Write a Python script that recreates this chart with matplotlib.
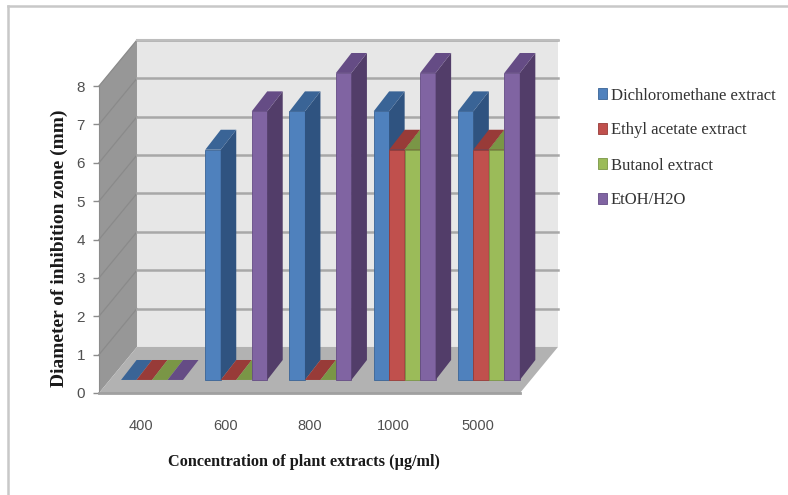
import matplotlib
matplotlib.use('Agg')
import matplotlib.pyplot as plt
from matplotlib.patches import Polygon, Patch

categories = ['400', '600', '800', '1000', '5000']
dichloromethane = [0, 6, 7, 7, 7]
ethyl_acetate = [0, 0, 0, 6, 6]
butanol = [0, 0, 0, 6, 6]
etoh_h2o = [0, 7, 8, 8, 8]
series_names = ['Dichloromethane extract', 'Ethyl acetate extract', 'Butanol extract', 'EtOH/H2O']

front_colors = ['#4F81BD', '#C0504D', '#9BBB59', '#8064A2']
top_colors = ['#3A6496', '#983B38', '#7A9646', '#654C85']
side_colors = ['#2F5380', '#7F3533', '#64783A', '#523D69']

W, H = 788, 495
# fake 3d depth, in data units
WALL_DX, WALL_DY = 0.451, 1.2
BAR_X0, BAR_Y0 = 0.13, 0.34
BAR_W = 0.184
BAR_DX, BAR_DY = 0.184, 0.52

fig = plt.figure(figsize=(W / 100, H / 100), dpi=100, facecolor='white')
ax = fig.add_axes([99 / W, 1 - 393 / H, 421 / W, 307 / H])
ax.set_xlim(0, 5)
ax.set_ylim(0, 8)
ax.patch.set_visible(False)


def poly(pts, color, z, edge=None, lw=0):
    ax.add_patch(Polygon(pts, closed=True, facecolor=color, edgecolor=edge or color,
                         linewidth=lw, clip_on=False, zorder=z))


n = len(categories)
# walls and floor
poly([(WALL_DX, WALL_DY), (n + WALL_DX, WALL_DY), (n + WALL_DX, 8 + WALL_DY), (WALL_DX, 8 + WALL_DY)], '#E7E7E7', 1)
poly([(0, 0), (WALL_DX, WALL_DY), (WALL_DX, 8 + WALL_DY), (0, 8)], '#979797', 1)
poly([(0, 0), (n, 0), (n + WALL_DX, WALL_DY), (WALL_DX, WALL_DY)], '#B2B2B2', 2)

# gridlines: faint on the left wall, stronger along the back
for k in range(1, 9):
    ax.plot([0, WALL_DX], [k, k + WALL_DY], color='#8A8A8A', lw=0.9, clip_on=False, zorder=1.5)
    ax.plot([WALL_DX, n + WALL_DX], [k + WALL_DY, k + WALL_DY], color='#A8A8A8', lw=1.8,
            clip_on=False, zorder=1.5)
ax.plot([WALL_DX, n + WALL_DX], [8 + WALL_DY, 8 + WALL_DY], color='#BDBDBD', lw=1.5, clip_on=False, zorder=1.5)

# bars, painted left to right
all_series = [dichloromethane, ethyl_acetate, butanol, etoh_h2o]
z = 3
for i in range(n):
    for s, vals in enumerate(all_series):
        v = vals[i]
        x0 = i + BAR_X0 + (1 - 4 * BAR_W) / 2 + s * BAR_W
        y0 = BAR_Y0
        x1 = x0 + BAR_W
        y1 = y0 + v
        if v > 0:
            poly([(x0, y0), (x1, y0), (x1, y1), (x0, y1)], front_colors[s], z, edge=top_colors[s], lw=0.6)
            poly([(x1, y0), (x1 + BAR_DX, y0 + BAR_DY), (x1 + BAR_DX, y1 + BAR_DY), (x1, y1)], side_colors[s], z + 0.1)
        poly([(x0, y1), (x1, y1), (x1 + BAR_DX, y1 + BAR_DY), (x0 + BAR_DX, y1 + BAR_DY)], top_colors[s], z + 0.2)
        z += 1

ax.set_xticks([i + 0.5 for i in range(n)])
ax.set_xticklabels(categories)
ax.set_yticks(range(9))
ax.tick_params(axis='x', length=0, pad=19, labelsize=10.5, labelcolor='#505050')
ax.tick_params(axis='y', length=4, width=1, color='#8C8C8C', pad=6, labelsize=11, labelcolor='#505050')
for lab in ax.get_xticklabels() + ax.get_yticklabels():
    lab.set_fontfamily('Liberation Sans')
for side in ['top', 'right']:
    ax.spines[side].set_visible(False)
ax.spines['left'].set_color('#8C8C8C')
ax.spines['bottom'].set_color('#A0A0A0')
ax.spines['bottom'].set_linewidth(2)
ax.spines['bottom'].set_zorder(2.5)

fig.text(304 / W, 1 - 462 / H, 'Concentration of plant extracts (µg/ml)', family='Liberation Serif',
         weight='bold', fontsize=11.7, color='#1A1A1A', ha='center', va='center')
fig.text(59 / W, 1 - 248 / H, 'Diameter of inhibition zone (mm)', family='Liberation Serif',
         weight='bold', fontsize=14, color='#1A1A1A', rotation=90, ha='center', va='center')

handles = [Patch(facecolor=front_colors[s], edgecolor=top_colors[s], lw=0.6) for s in range(4)]
fig.legend(handles, series_names, loc='upper left', bbox_to_anchor=(595 / W, 1 - 85 / H), frameon=False,
           prop={'family': 'Liberation Serif', 'size': 12}, labelcolor='#333333', handlelength=0.55,
           handleheight=0.6, handletextpad=0.24, labelspacing=1.14, borderpad=0.15, borderaxespad=0)

# frame of the pasted picture, left and top only
frame_x, frame_y = 7.5 / W, 1 - 5.5 / H
fig.add_artist(plt.Line2D([frame_x, frame_x], [0, frame_y], color='#C8C8C8', lw=1.8))
fig.add_artist(plt.Line2D([frame_x, 1], [frame_y, frame_y], color='#C8C8C8', lw=1.8))

plt.savefig('out.png', dpi=100)
